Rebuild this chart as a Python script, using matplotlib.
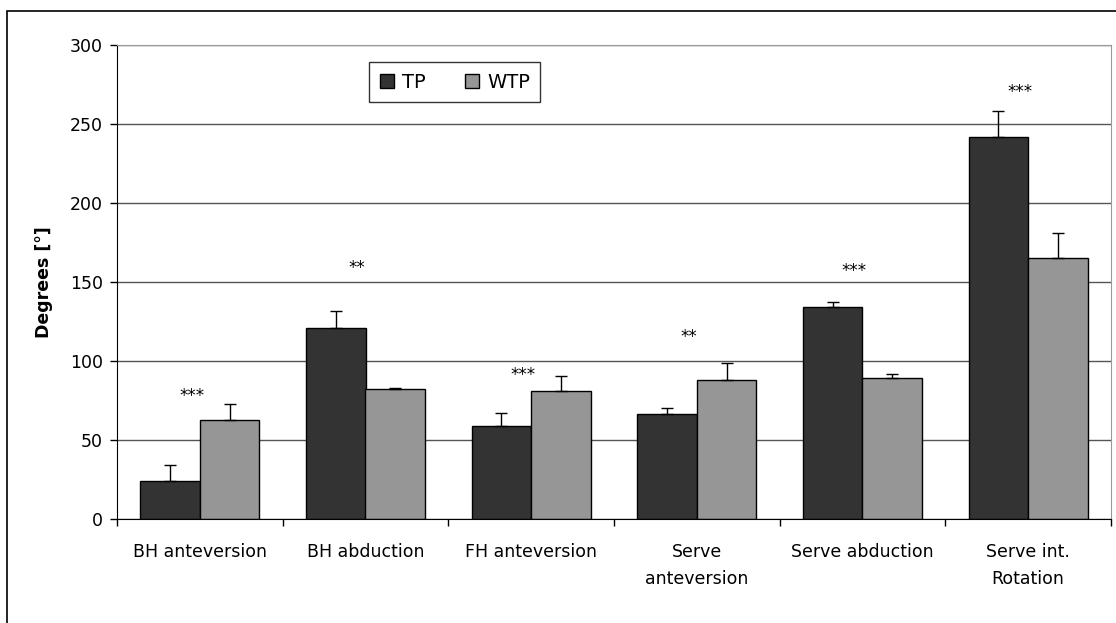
import numpy as np
import matplotlib
matplotlib.use("Agg")
import matplotlib.pyplot as plt
from matplotlib.patches import Rectangle

# ---- data ----
categories = ["BH anteversion", "BH abduction", "FH anteversion",
              "Serve\nanteversion", "Serve abduction", "Serve int.\nRotation"]
tp_mean = [24, 121, 59, 66.5, 134, 242]
tp_err = [10, 10.5, 8, 4, 3.5, 16]
wtp_mean = [62.5, 82, 81, 88, 89.5, 165.5]
wtp_err = [10.5, 0.8, 9.5, 10.5, 2.5, 15.5]
sig_labels = ["***", "**", "***", "**", "***", "***"]
sig_y = [78, 159, 91, 115, 157, 270]
y_ticks = [0, 50, 100, 150, 200, 250, 300]

plt.rcParams['font.family'] = ['DejaVu Sans']

fig = plt.figure(figsize=(11.16, 6.23), dpi=100)
ax = fig.add_axes([117 / 1116, 1 - 519 / 623, 994 / 1116, 474 / 623])

x = np.arange(len(categories))
w = 0.36
ax.set_axisbelow(True)
ax.yaxis.grid(True, color="#555555", lw=1.0)

ax.bar(x - w / 2, tp_mean, w, color="#333333", edgecolor="black", lw=1.0,
       label="TP", zorder=2)
ax.bar(x + w / 2, wtp_mean, w, color="#969696", edgecolor="black", lw=1.0,
       label="WTP", zorder=2)
ax.errorbar(x - w / 2, tp_mean, yerr=[np.zeros(len(x)), tp_err], fmt="none",
            ecolor="black", elinewidth=1.0, capsize=4.3, capthick=1.0, zorder=3)
ax.errorbar(x + w / 2, wtp_mean, yerr=[np.zeros(len(x)), wtp_err], fmt="none",
            ecolor="black", elinewidth=1.0, capsize=4.3, capthick=1.0, zorder=3)

for i, (s, yy) in enumerate(zip(sig_labels, sig_y)):
    ax.text(i - 0.05, yy, s, ha="center", va="center", fontsize=12)

ax.set_xlim(-0.5, len(categories) - 0.5)
ax.set_ylim(0, 300)
ax.set_yticks(y_ticks)
ax.tick_params(axis="y", length=5, width=1, labelsize=12.5, pad=5)
ax.set_xticks(x)
ax.set_xticklabels(categories, fontsize=12.5)
ax.set_xticks(np.arange(-0.5, len(categories)), minor=True)
ax.tick_params(axis="x", which="major", length=0, pad=17)
ax.tick_params(axis="x", which="minor", length=5, width=1)
for lbl in ax.get_xticklabels():
    lbl.set_linespacing(1.7)
    lbl.set_verticalalignment("top")

ax.set_ylabel("Degrees [°]", fontsize=12.5, fontweight="bold", labelpad=12)

for side in ["left", "bottom"]:
    ax.spines[side].set_color("black")
for side in ["top", "right"]:
    ax.spines[side].set_color("#999999")

leg = ax.legend(loc="upper left", bbox_to_anchor=(0.2535, 0.964), ncol=2,
                frameon=True, fancybox=False, edgecolor="black", fontsize=14,
                handlelength=0.75, handleheight=0.75, handletextpad=0.4,
                columnspacing=2.0, borderaxespad=0, borderpad=0.55)
leg.get_frame().set_linewidth(1.0)

# outer chart frame (only left and top edges visible in the picture)
fig.add_artist(Rectangle((7 / 1116, -0.1), 1.5, 1 - 11 / 623 + 0.1,
                         transform=fig.transFigure, fill=False,
                         edgecolor="black", lw=1.2, clip_on=False))

fig.savefig("out.png", dpi=100)
